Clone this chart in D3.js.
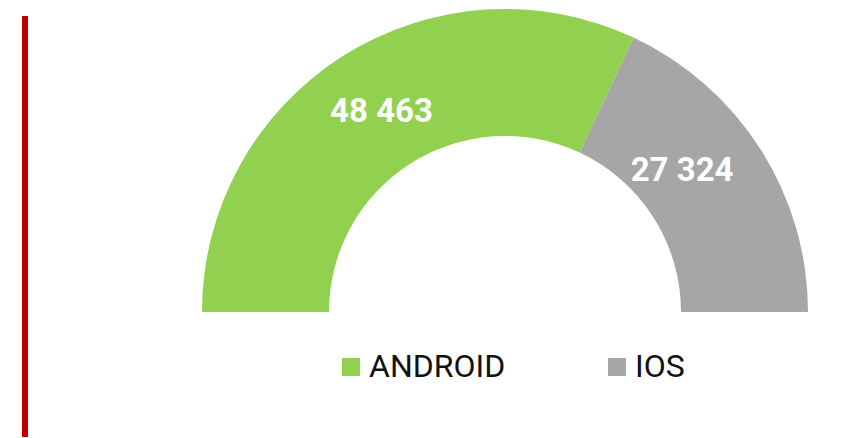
<!DOCTYPE html>
<html><head><meta charset="utf-8">
<script src="https://cdn.jsdelivr.net/npm/d3@7/dist/d3.min.js"></script>
<style>html,body{margin:0;padding:0;background:#fff;}svg{display:block;}</style>
</head><body>
<script>
const categories = ["ANDROID", "IOS"];
const values = [48463, 27324];
const colors = ["#92d050", "#a6a6a6"];

const W = 864, H = 438;
const svg = d3.select("body").append("svg").attr("width", W).attr("height", H);

// red accent bar
svg.append("rect").attr("x", 22).attr("y", 16).attr("width", 6).attr("height", 421).attr("fill", "#c00000");

const cx = 505, cy = 312, rOuter = 303, rInner = 176;
const pie = d3.pie().sort(null).startAngle(-Math.PI / 2).endAngle(Math.PI / 2);
const arc = d3.arc().innerRadius(rInner).outerRadius(rOuter);
const arcs = pie(values);
const g = svg.append("g").attr("transform", `translate(${cx},${cy})`);
g.selectAll("path").data(arcs).join("path").attr("d", arc).attr("fill", (d, i) => colors[i]);

const fmt = v => d3.format(",")(v).replace(/,/g, " ");
const nudges = [[5, 0], [-25, -14]];
g.selectAll("text.val").data(arcs).join("text").attr("class", "val")
  .attr("x", (d, i) => arc.centroid(d)[0] + nudges[i][0])
  .attr("y", (d, i) => arc.centroid(d)[1] + nudges[i][1])
  .attr("text-anchor", "middle").attr("dy", "0.36em")
  .attr("font-family", "Roboto, sans-serif").attr("font-weight", "bold")
  .attr("font-size", 33).attr("fill", "#fff")
  .text(d => fmt(d.data));

// legend
const legendX = [342, 608];
const lg = svg.append("g");
categories.forEach((c, i) => {
  lg.append("rect").attr("x", legendX[i]).attr("y", 358).attr("width", 18).attr("height", 18).attr("fill", colors[i]);
  lg.append("text").attr("x", legendX[i] + 27).attr("y", 377)
    .attr("font-family", "Roboto, sans-serif").attr("font-size", 32).attr("fill", "#111")
    .text(c);
});
</script>
</body></html>
